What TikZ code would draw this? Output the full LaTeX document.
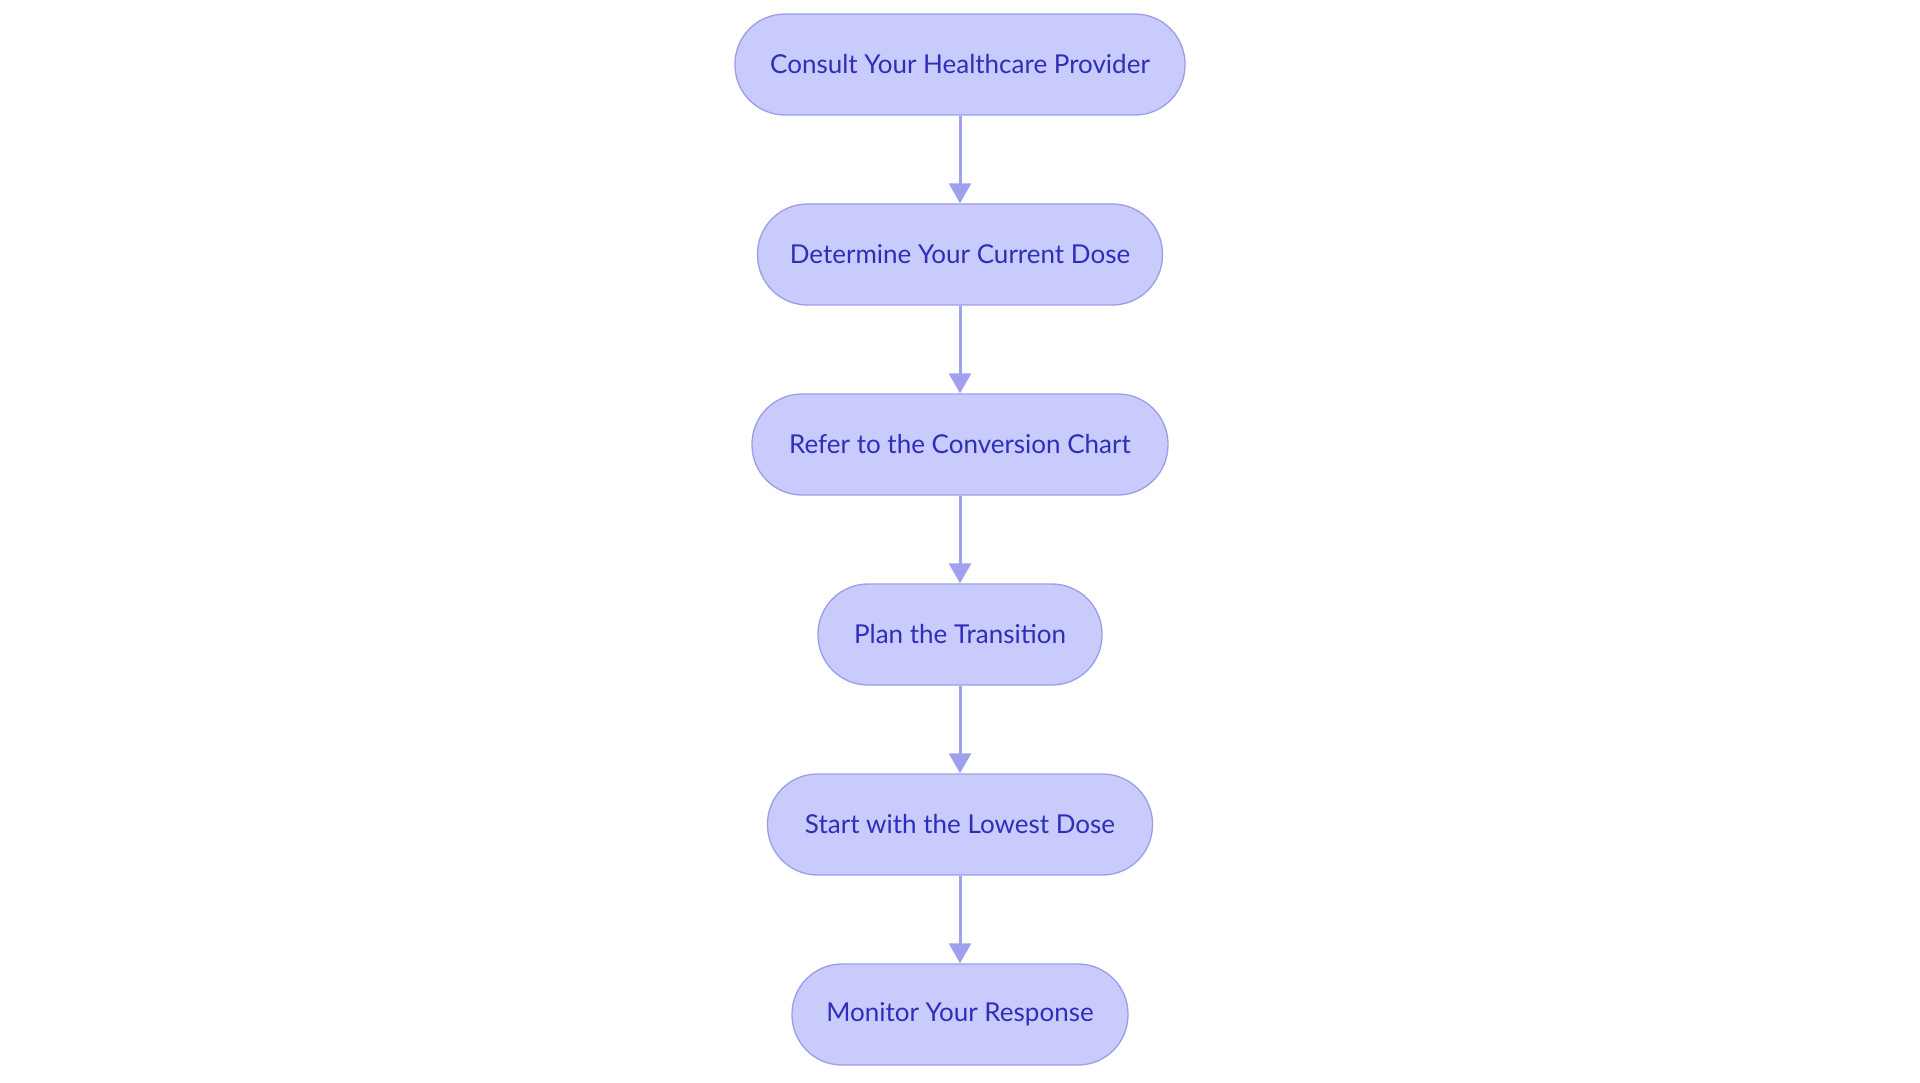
\documentclass[tikz,border=0pt]{standalone}
\usepackage{fontspec}
\setmainfont{Lato}
\usetikzlibrary{arrows.meta}
\definecolor{nodefill}{HTML}{C8CBFB}
\definecolor{nodeline}{HTML}{9A9EE8}
\definecolor{arrowc}{HTML}{9EA2EE}
\definecolor{textc}{HTML}{2E2EB8}
\tikzset{
  stepbox/.style={draw=nodeline, line width=1.3pt, fill=nodefill, rounded corners=50pt,
    minimum height=101pt, inner sep=0pt, text=textc,
    font=\fontsize{26}{31}\selectfont},
  flow/.style={draw=arrowc, line width=3pt, -{Triangle[width=22pt,length=20pt]}}
}
\begin{document}
\begin{tikzpicture}
\useasboundingbox (0,0) rectangle (1920pt,-1083pt);
\node[stepbox, minimum width=450pt] (a) at (960pt,-64.5pt) {Consult Your Healthcare Provider};
\node[stepbox, minimum width=405pt] (b) at (960pt,-254.5pt) {Determine Your Current Dose};
\node[stepbox, minimum width=416pt] (c) at (960pt,-444.5pt) {Refer to the Conversion Chart};
\node[stepbox, minimum width=284pt] (d) at (960pt,-634.5pt) {Plan the Transition};
\node[stepbox, minimum width=385pt] (e) at (960pt,-824.5pt) {Start with the Lowest Dose};
\node[stepbox, minimum width=336pt] (f) at (960pt,-1014.5pt) {Monitor Your Response};
\draw[flow] (a) -- (b);
\draw[flow] (b) -- (c);
\draw[flow] (c) -- (d);
\draw[flow] (d) -- (e);
\draw[flow] (e) -- (f);
\end{tikzpicture}
\end{document}
